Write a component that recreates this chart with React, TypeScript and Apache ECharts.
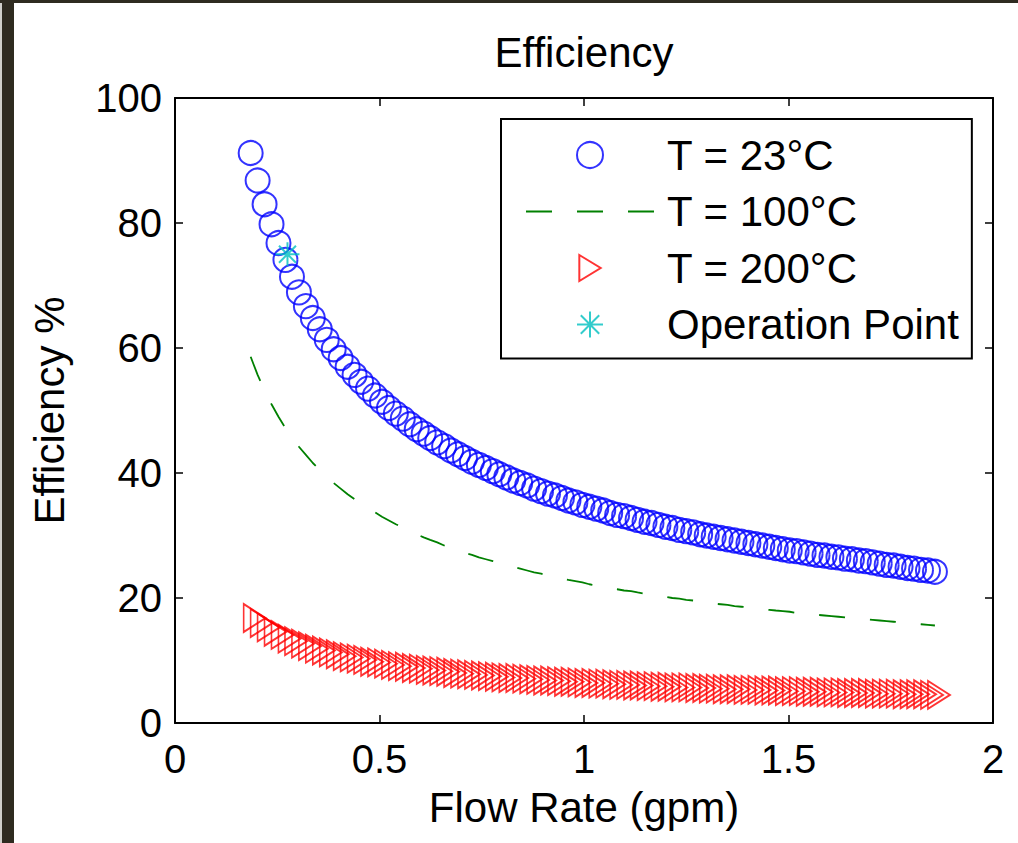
import React, { useEffect, useRef } from "react";
import * as echarts from "echarts";

const flowRate = [
  0.185, 0.202, 0.219, 0.236, 0.253, 0.270, 0.286, 0.303, 0.320, 0.337,
  0.354, 0.371, 0.388, 0.405, 0.422, 0.439, 0.455, 0.472, 0.489, 0.506,
  0.523, 0.540, 0.557, 0.574, 0.591, 0.608, 0.624, 0.641, 0.658, 0.675,
  0.692, 0.709, 0.726, 0.743, 0.760, 0.777, 0.793, 0.810, 0.827, 0.844,
  0.861, 0.878, 0.895, 0.912, 0.929, 0.946, 0.962, 0.979, 0.996, 1.013,
  1.030, 1.047, 1.064, 1.081, 1.098, 1.115, 1.131, 1.148, 1.165, 1.182,
  1.199, 1.216, 1.233, 1.250, 1.267, 1.284, 1.300, 1.317, 1.334, 1.351,
  1.368, 1.385, 1.402, 1.419, 1.436, 1.453, 1.469, 1.486, 1.503, 1.520,
  1.537, 1.554, 1.571, 1.588, 1.605, 1.622, 1.638, 1.655, 1.672, 1.689,
  1.706, 1.723, 1.740, 1.757, 1.774, 1.791, 1.807, 1.824, 1.841, 1.858,
];

const eff23 = [
  91.2, 86.8, 83.0, 79.8, 76.8, 74.1, 71.4, 68.9, 66.7, 64.8,
  63.0, 61.3, 59.8, 58.4, 57.0, 55.7, 54.6, 53.5, 52.4, 51.4,
  50.4, 49.5, 48.7, 47.8, 47.0, 46.3, 45.6, 44.9, 44.3, 43.6,
  43.0, 42.4, 41.8, 41.3, 40.8, 40.3, 39.8, 39.3, 38.8, 38.4,
  38.0, 37.5, 37.1, 36.7, 36.4, 36.0, 35.6, 35.3, 34.9, 34.6,
  34.3, 34.0, 33.6, 33.3, 33.1, 32.8, 32.5, 32.2, 32.0, 31.7,
  31.4, 31.2, 30.9, 30.7, 30.5, 30.2, 30.0, 29.8, 29.6, 29.4,
  29.2, 29.0, 28.8, 28.6, 28.4, 28.2, 28.0, 27.8, 27.6, 27.5,
  27.3, 27.1, 26.9, 26.8, 26.6, 26.5, 26.3, 26.2, 26.0, 25.9,
  25.7, 25.5, 25.3, 25.2, 25.0, 24.8, 24.7, 24.5, 24.4, 24.2,
];

const eff100 = [
  58.6, 55.7, 53.2, 51.0, 49.0, 47.2, 45.7, 44.2, 42.9, 41.6,
  40.5, 39.4, 38.4, 37.5, 36.6, 35.8, 35.1, 34.4, 33.7, 33.0,
  32.4, 31.8, 31.3, 30.7, 30.2, 29.7, 29.3, 28.9, 28.4, 28.0,
  27.6, 27.2, 26.9, 26.5, 26.2, 25.9, 25.6, 25.3, 25.0, 24.7,
  24.4, 24.1, 23.9, 23.6, 23.4, 23.1, 22.9, 22.7, 22.5, 22.2,
  22.0, 21.8, 21.6, 21.4, 21.2, 21.1, 20.9, 20.7, 20.5, 20.4,
  20.2, 20.0, 19.9, 19.7, 19.6, 19.4, 19.3, 19.1, 19.0, 18.9,
  18.7, 18.6, 18.5, 18.3, 18.2, 18.1, 18.0, 17.9, 17.8, 17.6,
  17.5, 17.4, 17.3, 17.2, 17.1, 17.0, 16.9, 16.8, 16.7, 16.6,
  16.5, 16.4, 16.3, 16.2, 16.1, 16.0, 15.9, 15.8, 15.7, 15.6,
];

const eff200 = [
  16.8, 16.0, 15.3, 14.6, 14.1, 13.5, 13.1, 12.7, 12.3, 11.9,
  11.6, 11.3, 11.0, 10.7, 10.5, 10.3, 10.1, 9.8, 9.7, 9.5,
  9.3, 9.1, 9.0, 8.8, 8.7, 8.5, 8.4, 8.3, 8.2, 8.0,
  7.9, 7.8, 7.7, 7.6, 7.5, 7.4, 7.3, 7.2, 7.2, 7.1,
  7.0, 6.9, 6.8, 6.8, 6.7, 6.6, 6.6, 6.5, 6.4, 6.4,
  6.3, 6.3, 6.2, 6.1, 6.1, 6.0, 6.0, 5.9, 5.9, 5.8,
  5.8, 5.7, 5.7, 5.7, 5.6, 5.6, 5.5, 5.5, 5.4, 5.4,
  5.4, 5.3, 5.3, 5.3, 5.2, 5.2, 5.2, 5.1, 5.1, 5.1,
  5.0, 5.0, 5.0, 4.9, 4.9, 4.9, 4.8, 4.8, 4.8, 4.8,
  4.7, 4.7, 4.7, 4.7, 4.6, 4.6, 4.6, 4.6, 4.5, 4.5,
];

const operationPoint = [0.275, 75.0];

const seriesNames = ["T = 23°C", "T = 100°C", "T = 200°C", "Operation Point"];

const FONT = "'Liberation Sans', Arial, Helvetica, sans-serif";
const TRI = "path://M0,0L23,14L0,28Z";
const STAR = "path://M12,0V24M0,12H24M3.5,3.5L20.5,20.5M3.5,20.5L20.5,3.5";
const DASH = "path://M0,0h26v2h-26z M51,0h26v2h-26z M102,0h26v2h-26z";

const BLUE = "#0000ff";
const GREEN = "#008000";
const RED = "#ff0000";
const CYAN = "#00bfbf";

export default function App() {
  const ref = useRef<HTMLDivElement>(null);

  useEffect(() => {
    if (!ref.current) return;
    const chart = echarts.init(ref.current, null, { renderer: "svg" });

    const axisLine = { show: true, onZero: false, lineStyle: { color: "#000", width: 2 } };
    const axisTick = { show: true, inside: true, length: 8, lineStyle: { color: "#000", width: 1.5 } };

    const option: any = {
      animation: false,
      backgroundColor: "#ffffff",
      title: {
        text: "Efficiency",
        left: 584,
        top: 31,
        textAlign: "center",
        padding: 0,
        textStyle: { fontSize: 42, fontWeight: "normal", color: "#000", fontFamily: FONT },
      },
      grid: { left: 175, right: 25, top: 98, bottom: 120, containLabel: false },
      xAxis: [
        {
          type: "value",
          min: 0,
          max: 2,
          interval: 0.5,
          axisLine,
          axisTick,
          splitLine: { show: false },
          axisLabel: { fontSize: 40, color: "#000", fontFamily: FONT, margin: 16 },
          name: "Flow Rate (gpm)",
          nameLocation: "middle",
          nameGap: 63,
          nameTextStyle: { fontSize: 42, color: "#000", fontFamily: FONT },
        },
        {
          type: "value",
          position: "top",
          min: 0,
          max: 2,
          interval: 0.5,
          axisLine,
          axisTick,
          splitLine: { show: false },
          axisLabel: { show: false },
        },
      ],
      yAxis: [
        {
          type: "value",
          min: 0,
          max: 100,
          interval: 20,
          axisLine,
          axisTick,
          splitLine: { show: false },
          axisLabel: { fontSize: 40, color: "#000", fontFamily: FONT, margin: 13 },
          name: "Efficiency %",
          nameLocation: "middle",
          nameGap: 105,
          nameTextStyle: { fontSize: 42, color: "#000", fontFamily: FONT },
        },
        {
          type: "value",
          position: "right",
          min: 0,
          max: 100,
          interval: 20,
          axisLine,
          axisTick,
          splitLine: { show: false },
          axisLabel: { show: false },
        },
      ],
      legend: {
        orient: "vertical",
        left: 501,
        top: 119,
        padding: [13, 13, 11, 25],
        itemGap: 10.5,
        itemWidth: 128,
        itemHeight: 26,
        selectedMode: false,
        borderColor: "#000",
        borderWidth: 2,
        backgroundColor: "#fff",
        textStyle: { fontSize: 42, color: "#000", fontFamily: FONT, lineHeight: 46, padding: [0, 0, 0, 8] },
        data: [
          { name: seriesNames[0], icon: "circle", itemStyle: { color: "transparent", borderColor: BLUE, borderWidth: 2 } },
          { name: seriesNames[1], icon: DASH, itemStyle: { color: GREEN, borderWidth: 0 } },
          { name: seriesNames[2], icon: TRI, itemStyle: { color: "transparent", borderColor: RED, borderWidth: 2 } },
          { name: seriesNames[3], icon: STAR, itemStyle: { color: "transparent", borderColor: CYAN, borderWidth: 2 } },
        ],
      },
      graphic: [
        { type: "rect", shape: { x: 0, y: 0, width: 2, height: 843 }, style: { fill: "#cfcfca" }, z: 100 },
        { type: "rect", shape: { x: 2, y: 0, width: 12, height: 843 }, style: { fill: "#2e2b20" }, z: 100 },
        { type: "rect", shape: { x: 0, y: 0, width: 1018, height: 3 }, style: { fill: "#2e2b20" }, z: 100 },
      ],
      series: [
        {
          name: seriesNames[0],
          type: "scatter",
          data: flowRate.map((x, i) => [x, eff23[i]]),
          symbol: "circle",
          symbolSize: 24,
          itemStyle: { color: "transparent", borderColor: BLUE, borderWidth: 2 },
          emphasis: { disabled: true },
          z: 2,
        },
        {
          name: seriesNames[1],
          type: "line",
          data: flowRate.map((x, i) => [x, eff100[i]]),
          showSymbol: false,
          symbol: "none",
          lineStyle: { color: GREEN, width: 1.8, type: [26, 25] },
          itemStyle: { color: GREEN },
          emphasis: { disabled: true },
          z: 3,
        },
        {
          name: seriesNames[2],
          type: "scatter",
          data: flowRate.map((x, i) => [x, eff200[i]]),
          symbol: TRI,
          symbolSize: [22, 28],
          symbolOffset: [4, 0],
          itemStyle: { color: "transparent", borderColor: RED, borderWidth: 1.8 },
          emphasis: { disabled: true },
          z: 4,
        },
        {
          name: seriesNames[3],
          type: "scatter",
          data: [operationPoint],
          symbol: STAR,
          symbolSize: 24,
          itemStyle: { color: "transparent", borderColor: CYAN, borderWidth: 2 },
          emphasis: { disabled: true },
          z: 5,
        },
      ],
    };

    chart.setOption(option);
    return () => chart.dispose();
  }, []);

  return (
    <div
      ref={ref}
      style={{ position: "fixed", left: 0, top: 0, width: 1018, height: 843, background: "#fff" }}
    />
  );
}
